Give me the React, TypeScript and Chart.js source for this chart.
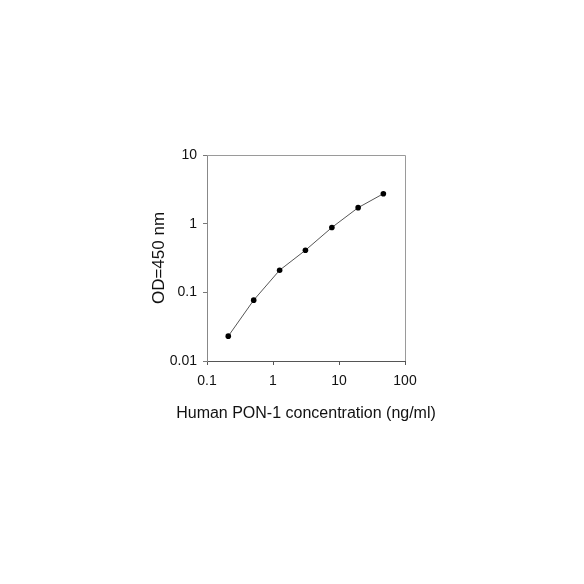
import React, { useEffect, useRef } from "react";
import { Chart, registerables } from "chart.js";

Chart.register(...registerables);

const concentrations = [0.21, 0.51, 1.26, 3.1, 7.8, 19.5, 47];
const odValues = [0.023, 0.077, 0.21, 0.41, 0.88, 1.71, 2.73];
const xTicks = [0.1, 1, 10, 100];
const yTicks = [0.01, 0.1, 1, 10];
const xTitle = "Human PON-1 concentration (ng/ml)";
const yTitle = "OD=450 nm";

const FONT = "Arial, 'Liberation Sans', sans-serif";

const framePlugin = {
  id: "frame",
  afterDraw(chart: any) {
    const { ctx, chartArea } = chart;
    const { left, right, top, bottom } = chartArea;
    ctx.save();
    ctx.strokeStyle = "#9a9a9a";
    ctx.lineWidth = 1;
    ctx.beginPath();
    ctx.moveTo(left, top + 0.5);
    ctx.lineTo(right + 0.5, top + 0.5);
    ctx.lineTo(right + 0.5, bottom);
    ctx.stroke();
    ctx.fillStyle = "#111";
    ctx.font = "16px " + FONT;
    ctx.textAlign = "center";
    ctx.textBaseline = "middle";
    ctx.fillText(xTitle, (left + right) / 2, 414);
    ctx.translate(159, (top + bottom) / 2);
    ctx.rotate(-Math.PI / 2);
    ctx.font = "17px " + FONT;
    ctx.fillText(yTitle, 0, 0);
    ctx.restore();
  },
};

export default function App() {
  const ref = useRef<HTMLCanvasElement>(null);
  useEffect(() => {
    if (!ref.current) return;
    const chart = new Chart(ref.current, {
      type: "line",
      data: {
        datasets: [
          {
            data: concentrations.map((x, i) => ({ x, y: odValues[i] })),
            borderColor: "#555",
            borderWidth: 1,
            pointRadius: 2.8,
            pointBackgroundColor: "#000",
            pointBorderColor: "#000",
            pointBorderWidth: 0,
            tension: 0,
          },
        ],
      },
      options: {
        responsive: false,
        animation: false,
        layout: { padding: { left: 0, right: 179, top: 155, bottom: 183 } },
        plugins: { legend: { display: false }, tooltip: { enabled: false } },
        scales: {
          x: {
            type: "logarithmic",
            min: 0.1,
            max: 100,
            afterBuildTicks: (s: any) => {
              s.ticks = xTicks.map((v) => ({ value: v }));
            },
            afterFit: (s: any) => {
              s.height = 40;
            },
            ticks: {
              color: "#111",
              font: { family: FONT, size: 14 },
              padding: 8,
              maxRotation: 0,
              callback: (v: any) => String(v),
            },
            grid: { drawOnChartArea: false, tickLength: 4, color: "#555" },
            border: { color: "#555" },
          },
          y: {
            type: "logarithmic",
            min: 0.01,
            max: 10,
            afterBuildTicks: (s: any) => {
              s.ticks = yTicks.map((v) => ({ value: v }));
            },
            afterFit: (s: any) => {
              s.width = 207;
            },
            ticks: {
              color: "#111",
              font: { family: FONT, size: 14 },
              padding: 6,
              callback: (v: any) => String(v),
            },
            grid: { drawOnChartArea: false, tickLength: 4, color: "#777" },
            border: { color: "#888" },
          },
        },
      },
      plugins: [framePlugin],
    });
    return () => chart.destroy();
  }, []);
  return (
    <div style={{ position: "absolute", left: 0, top: 0, width: 584, height: 584, background: "#fff" }}>
      <canvas ref={ref} width={584} height={584} />
    </div>
  );
}
